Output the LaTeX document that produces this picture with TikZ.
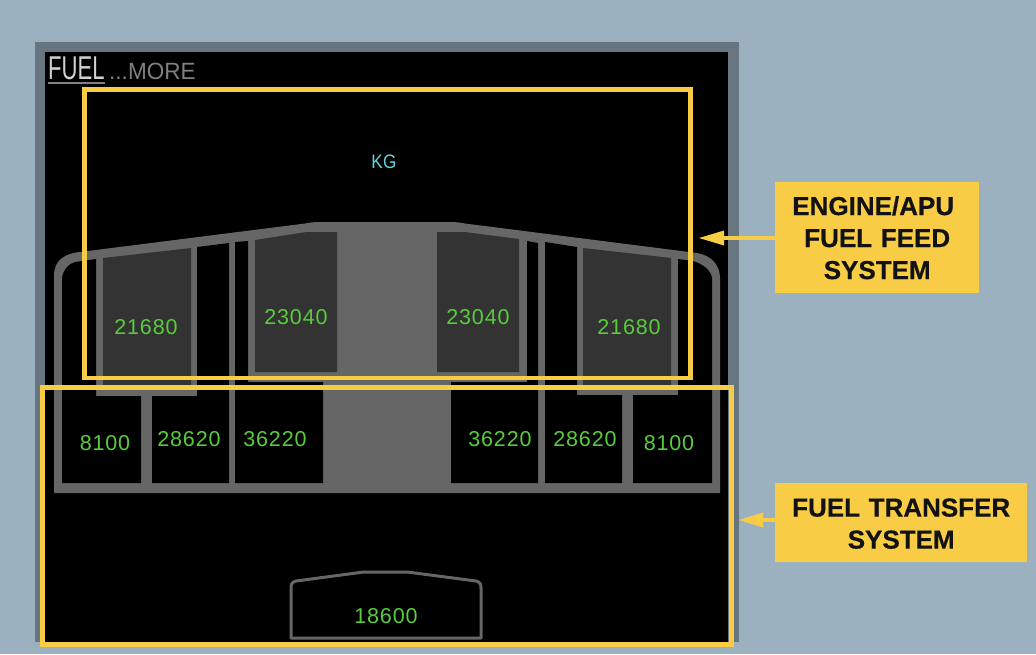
\documentclass[tikz,border=0pt]{standalone}
\usepackage{fontspec}
\setmainfont{Liberation Sans}
\definecolor{bgblue}{HTML}{9CB1BF}
\definecolor{bezel}{HTML}{66757F}
\definecolor{tankgrey}{HTML}{666666}
\definecolor{tankdark}{HTML}{333333}
\definecolor{callout}{HTML}{F8CD45}
\definecolor{qty}{HTML}{58CC3C}
\definecolor{unitcyan}{HTML}{5CD6DE}
\tikzset{
  px/.style={x=1pt,y=-1pt},
  qtytext/.style={text=qty,font=\fontsize{21.5}{24}\selectfont\addfontfeature{LetterSpace=4},inner sep=0pt},
  calloutbox/.style={fill=callout,text=black!93,font=\fontsize{26}{32}\selectfont\bfseries\addfontfeature{FakeBold=0.4},align=center,inner sep=0pt,minimum height=#1},
  regionbox/.style={draw=callout,line width=4.8pt,miter limit=10},
  pointer/.style={draw=callout,line width=4.8pt},
  pointerhead/.style={fill=callout,draw=none},
  cutout/.style={fill=black,draw=none},
  inner tank/.style={fill=tankdark,draw=none},
}
\begin{document}
\begin{tikzpicture}[px]
\useasboundingbox (0,0) rectangle (1036,654);
\fill[bgblue] (0,0) rectangle (1036,654);
\fill[bezel] (35,42) rectangle (739,642);
\fill[black] (45,52) rectangle (728,642);
% tank body
\fill[tankgrey] (54,493) -- (54,275) .. controls (54,260) and (66,253) .. (80,252)
  -- (305,223.5) .. controls (310,222.5) and (314,222) .. (320,222) -- (450,222) .. controls (456,222) and (460,222.5) .. (465,223.5)
  -- (697,253) .. controls (710,255) and (720,264) .. (720,278) -- (720,493) -- cycle;
% left cut-outs
\path[cutout] (62,483) -- (62,278) .. controls (63,270) and (68,264) .. (75,262) -- (96,259) -- (96,396) -- (141,396) -- (141,483) -- cycle;
\path[cutout] (152,483) -- (152,396) -- (197,396) -- (197,247) -- (229,243) -- (229,483) -- cycle;
\path[cutout] (235,483) -- (235,242) -- (248,241) -- (248,382) -- (323,382) -- (323,483) -- cycle;
% right cut-outs
\path[cutout] (451,483) -- (451,382) -- (527,382) -- (527,241) -- (538,243) -- (538,483) -- cycle;
\path[cutout] (545,483) -- (545,242) -- (577,247) -- (577,395) -- (622,395) -- (622,483) -- cycle;
\path[cutout] (633,483) -- (633,395) -- (678,395) -- (678,259) -- (693,261) .. controls (703,264) and (710,270) .. (712,277) -- (712,483) -- cycle;
% inner dark tanks
\path[inner tank] (103,258) -- (191,248) -- (191,385.5) -- (103,385.5) -- cycle;
\path[inner tank] (255,240) -- (300,233) .. controls (304,232.4) and (306,232) .. (310,232) -- (337,232) -- (337,372) -- (255,372) -- cycle;
\path[inner tank] (437,232) -- (462,232) .. controls (466,232) and (468,232.4) .. (472,233) -- (519,239) -- (519,372) -- (437,372) -- cycle;
\path[inner tank] (583,248) -- (671,258) -- (671,385.5) -- (583,385.5) -- cycle;
% trim tank
\draw[tankgrey,line width=3pt,line join=round] (291,638) -- (291,588) .. controls (291,584) and (292,582) .. (296,581)
  -- (360,572.5) .. controls (362,572.2) and (364,572) .. (366,572) -- (405,572) .. controls (407,572) and (409,572.2) .. (411,572.5) -- (476,581) .. controls (480,582) and (481,584) .. (481,588) -- (481,638) -- cycle;
% header
\node[anchor=base west,inner sep=0pt,text=black!18,xscale=0.67,font=\fontsize{33}{36}\selectfont] (fuel) at (48,79) {FUEL};
\fill[black!50] (48,82) rectangle (105,84);
\node[anchor=base west,inner sep=0pt,text=black!50,xscale=0.96,font=\fontsize{23.5}{26}\selectfont] (more) at (109,79) {...MORE};
\node[inner sep=0pt,text=unitcyan,xscale=0.88,font=\fontsize{19.5}{22}\selectfont\addfontfeature{LetterSpace=2}] (kg) at (384,162) {KG};
% quantities
\node[qtytext] (q1) at (146,327) {21680};
\node[qtytext] (q2) at (296,317) {23040};
\node[qtytext] (q3) at (478,317) {23040};
\node[qtytext] (q4) at (629,327) {21680};
\node[qtytext] (q5) at (105,443) {8100};
\node[qtytext] (q6) at (189,439) {28620};
\node[qtytext] (q7) at (275,439) {36220};
\node[qtytext] (q8) at (500,439) {36220};
\node[qtytext] (q9) at (585,439) {28620};
\node[qtytext] (q10) at (669,443) {8100};
\node[qtytext] (q11) at (386,616) {18600};
% region frames
\draw[regionbox] (84.5,89.5) rectangle (690.5,378);
\draw[regionbox] (42.5,387.5) rectangle (731.5,644.7);
% callouts
\node[calloutbox=111pt,text width=204pt,anchor=north west] (feed) at (775,182) {\rule{0pt}{19pt}ENGINE/APU\hspace*{8pt}\mbox{}\\FUEL FEED\\SYSTEM};
\node[calloutbox=79pt,text width=252pt,anchor=north west] (transfer) at (775,483) {\rule{0pt}{20pt}FUEL TRANSFER\\SYSTEM};
\coordinate (feedtip) at (699,238);
\coordinate (transfertip) at (739,520);
\draw[pointer] (feed.west |- feedtip) -- ([xshift=20pt]feedtip);
\path[pointerhead] (feedtip) -- ([xshift=25pt,yshift=-7.5pt]feedtip) -- ([xshift=25pt,yshift=7.5pt]feedtip) -- cycle;
\draw[pointer] (transfer.west |- transfertip) -- ([xshift=20pt]transfertip);
\path[pointerhead] (transfertip) -- ([xshift=24pt,yshift=-7.5pt]transfertip) -- ([xshift=24pt,yshift=7.5pt]transfertip) -- cycle;
\end{tikzpicture}
\end{document}
